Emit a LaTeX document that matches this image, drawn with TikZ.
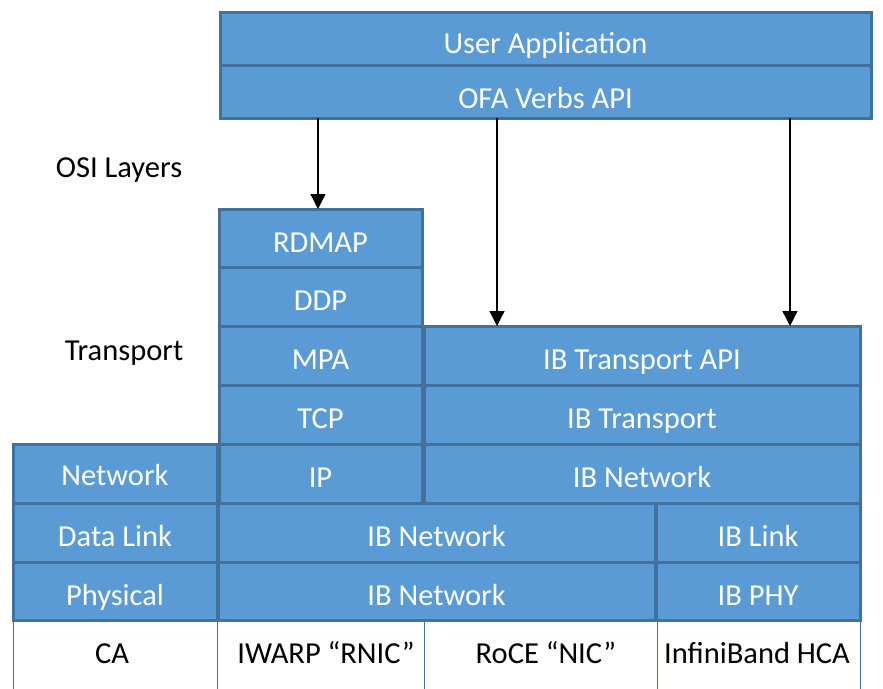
\documentclass[tikz,border=0pt]{standalone}
\usepackage{fontspec}
\setmainfont{Carlito}
\usetikzlibrary{arrows.meta}
\definecolor{boxfill}{HTML}{5B9BD5}
\definecolor{boxline}{HTML}{41719C}
\begin{document}
\begin{tikzpicture}[x=1pt,y=-1pt,
  layer/.style={draw=boxline, fill=boxfill, line width=3pt, text=white,
    font=\fontsize{30.5}{36}\selectfont, anchor=north west, inner sep=0pt, outer sep=0pt,
    text height=28pt, text depth=0pt},
  cell/.style={draw=boxline, line width=0.9pt, anchor=north west, inner sep=0pt, outer sep=0pt},
  lbl/.style={text=black, font=\fontsize{30.5}{36}\selectfont, inner sep=0pt, anchor=base},
  arr/.style={line width=1.3pt, -{Triangle[width=15pt,length=15pt]}}]
\useasboundingbox (0,0) rectangle (883,688);
% top boxes
\node[layer, minimum width=651pt, minimum height=53pt, text height=29pt] (ua) at (220,12) {User Application};
\node[layer, minimum width=651pt, minimum height=53pt, text height=33pt] (ofa) at (220,65) {OFA Verbs API};
% iWARP column
\node[layer, minimum width=203pt, minimum height=58pt] (rdmap) at (219,209) {RDMAP};
\node[layer, minimum width=203pt, minimum height=59pt] (ddp) at (219,267) {DDP};
\node[layer, minimum width=203pt, minimum height=59pt] (mpa) at (219,326) {MPA};
\node[layer, minimum width=203pt, minimum height=59pt] (tcp) at (219,385) {TCP};
\node[layer, minimum width=203pt, minimum height=59pt] (ip) at (219,444) {IP};
% IB column
\node[layer, minimum width=436pt, minimum height=59pt] (ibtapi) at (424,326) {IB Transport API};
\node[layer, minimum width=436pt, minimum height=59pt] (ibt) at (424,385) {IB Transport};
\node[layer, minimum width=436pt, minimum height=59pt] (ibnet1) at (424,444) {IB Network};
% OSI column
\node[layer, minimum width=204pt, minimum height=59pt, text height=24pt] (network) at (13,444) {Network};
\node[layer, minimum width=204pt, minimum height=59pt] (datalink) at (13,503) {Data Link};
\node[layer, minimum width=204pt, minimum height=58pt] (physical) at (13,562) {Physical};
% lower rows
\node[layer, minimum width=437pt, minimum height=59pt] (ibnet2) at (218,503) {IB Network};
\node[layer, minimum width=437pt, minimum height=58pt] (ibnet3) at (218,562) {IB Network};
\node[layer, minimum width=204pt, minimum height=59pt] (iblink) at (656,503) {IB Link};
\node[layer, minimum width=204pt, minimum height=58pt] (ibphy) at (656,562) {IB PHY};
% bottom row cells
\node[cell, minimum width=204pt, minimum height=80pt] (ca) at (13,620) {};
\node[cell, minimum width=207pt, minimum height=80pt] (iwarp) at (217,620) {};
\node[cell, minimum width=233pt, minimum height=80pt] (roce) at (424,620) {};
\node[cell, minimum width=203pt, minimum height=80pt] (hca) at (657,620) {};
\node[lbl] (cat) at (112,663) {CA};
\node[lbl] (iwarpt) at (326,663) {IWARP “RNIC”};
\node[lbl] (rocet) at (546,663) {RoCE “NIC”};
\node[lbl] (hcat) at (757,663) {InfiniBand HCA};
% side labels
\node[lbl] (osi) at (119,177) {OSI Layers};
\node[lbl] (transport) at (124,360) {Transport};
% arrows
\coordinate (a1) at (318,209);
\coordinate (a2) at (497,326);
\coordinate (a3) at (790,326);
\draw[arr] (a1 |- ofa.south) -- (a1);
\draw[arr] (a2 |- ofa.south) -- (a2);
\draw[arr] (a3 |- ofa.south) -- (a3);
\end{tikzpicture}
\end{document}
